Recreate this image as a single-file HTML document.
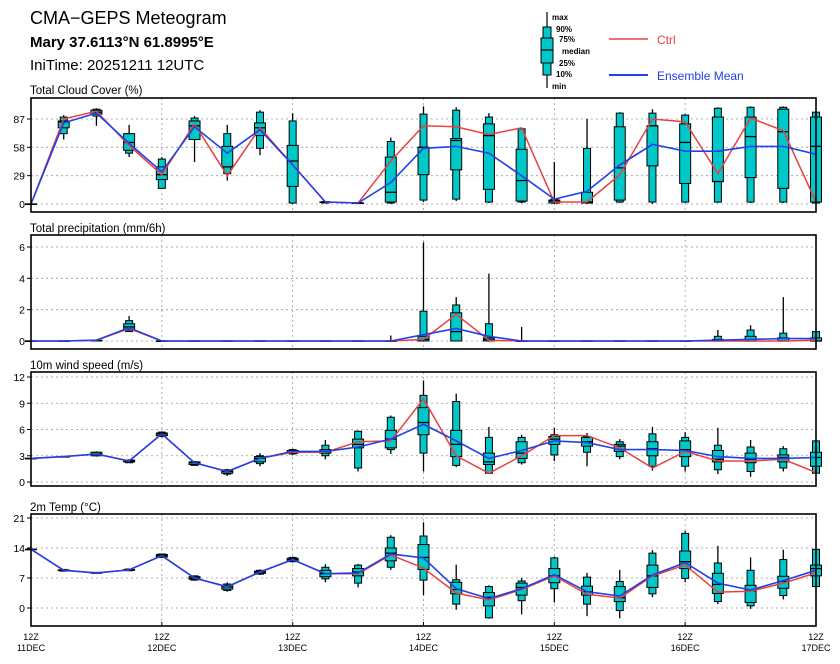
<!DOCTYPE html>
<html><head><meta charset="utf-8">
<style>
html,body{margin:0;padding:0;background:#fff;}
svg{display:block;font-family:"Liberation Sans",sans-serif;}
</style></head>
<body>
<svg id="chart" width="840" height="664" viewBox="0 0 840 664" xmlns="http://www.w3.org/2000/svg">
<g>
<text x="30" y="24" font-size="18" fill="#000">CMA−GEPS Meteogram</text>
<text x="30" y="47" font-size="15" font-weight="bold" fill="#000">Mary 37.6113°N 61.8995°E</text>
<text x="30" y="70" font-size="15" fill="#000">IniTime: 20251211 12UTC</text>
</g>
<g font-size="8" font-weight="bold">
<line x1="547" y1="12" x2="547" y2="88" stroke="#000" stroke-width="1.2"/>
<rect x="543" y="27" width="8" height="48" fill="#00c8c8" stroke="#000"/>
<rect x="541" y="38" width="12" height="25" fill="#00c8c8" stroke="#000"/>
<line x1="541" y1="50" x2="553" y2="50" stroke="#000" stroke-width="1.2"/>
<text x="552" y="20">max</text><text x="556" y="32">90%</text><text x="559" y="42">75%</text>
<text x="562" y="54">median</text><text x="559" y="66">25%</text><text x="556" y="77">10%</text><text x="552" y="89">min</text>
<line x1="609" y1="39" x2="648" y2="39" stroke="#e84040" stroke-width="1.5"/>
<text x="657" y="44" font-size="12" font-weight="normal" fill="#e84040">Ctrl</text>
<line x1="609" y1="75" x2="648" y2="75" stroke="#2040e8" stroke-width="2"/>
<text x="657" y="80" font-size="12" font-weight="normal" fill="#2040e8">Ensemble Mean</text>
</g>
</svg>
<script>
// Shared time axis
const timeLabelsTop = ["12Z","12Z","12Z","12Z","12Z","12Z","12Z"];
const timeLabelsBottom = ["11DEC","12DEC","13DEC","14DEC","15DEC","16DEC","17DEC"];

// Cloud cover (%)
const cloudMax = [0,91,98,81,48,90,81,96,93,3,2,68,100,99,93,78,43,87,94,97,92,99,100,100,95];
const cloudP90 = [0,89,97,72,46,88,72,94,85,2.5,1.5,64,92,96,89,77,5,57,93,93,91,98,99,99,94];
const cloudP75 = [0,85,96,72,38,85,59,83,60,2,1,48,58,67,82,56,4,12,79,80,82,89,89,97,89];
const cloudMed = [0,84,94,63,30,80,38,78,44,2,1,12,58,65,70,24,3,2,37,80,63,23,69,74,59];
const cloudP25 = [0,78,92,55,25,66,38,70,18,1.5,0.5,2,30,35,15,3,1,1,4,39,21,23,27,16,2];
const cloudP10 = [0,72,90,52,16,66,31,57,1,1,0.5,1,4,5,2,2,1,1,2,2,2,2,2,2,1];
const cloudMin = [0,66,80,48,16,43,24,50,0,1,0,0,2,3,1,1,0,0,1,0,1,1,1,1,0];
const cloudCtrl = [0,87,95,60,30,82,29,78,40,2,1,44,80,79,71,78,2,2,30,87,84,31,88,75,2];
const cloudMean = [0,83,93,62,33,79,52,76,40,2,1,22,57,59,52,29,5,13,40,61,54,54,59,59,51];
const cloudTicks = [0,29,58,87];

// Precipitation (mm/6h)
const prMax = [0,0,0.05,1.6,0,0,0,0,0,0,0,0.35,6.3,2.8,4.3,0.9,0,0,0,0,0,0.7,1.0,2.8,0.6];
const prP90 = [0,0,0.05,1.3,0,0,0,0,0,0,0,0,1.9,2.3,1.1,0,0,0,0,0,0,0.3,0.7,0.5,0.6];
const prP75 = [0,0,0.04,1.1,0,0,0,0,0,0,0,0,0.3,1.8,0.2,0,0,0,0,0,0,0.1,0.3,0.2,0.2];
const prMed = [0,0,0.03,0.9,0,0,0,0,0,0,0,0,0.1,0.6,0.1,0,0,0,0,0,0,0,0,0,0];
const prP25 = [0,0,0.02,0.7,0,0,0,0,0,0,0,0,0,0,0,0,0,0,0,0,0,0,0,0,0];
const prP10 = [0,0,0.01,0.6,0,0,0,0,0,0,0,0,0,0,0,0,0,0,0,0,0,0,0,0,0];
const prMin = [0,0,0,0.6,0,0,0,0,0,0,0,0,0,0,0,0,0,0,0,0,0,0,0,0,0];
const prCtrl = [0,0,0.05,0.8,0,0,0,0,0,0,0,0,0.1,1.7,0.05,0,0,0,0,0,0,0,0,0,0.05];
const prMean = [0,0,0.05,0.85,0,0,0,0,0,0,0,0,0.4,0.8,0.3,0,0,0,0,0,0,0.05,0.1,0.15,0.15];
const prTicks = [0,2,4,6];

// 10m wind speed (m/s)
const wsMax = [2.7,2.9,3.5,2.6,5.8,2.4,1.5,3.3,3.8,4.8,5.9,7.6,11.6,10.1,6.3,5.4,6.2,5.6,4.9,6.3,5.7,6.2,4.8,4.1,4.7];
const wsP90 = [2.7,2.9,3.4,2.5,5.7,2.3,1.4,3.0,3.7,4.2,5.8,7.4,9.9,9.2,5.1,5.1,5.4,5.2,4.6,5.5,5.1,4.2,4.0,3.8,4.7];
const wsP75 = [2.7,2.9,3.4,2.5,5.6,2.3,1.3,2.9,3.6,3.7,4.9,5.9,8.5,5.9,3.3,4.6,5.2,5.1,4.3,4.6,4.7,3.6,3.3,3.1,3.4];
const wsMed = [2.7,2.9,3.2,2.4,5.5,2.2,1.2,2.7,3.4,3.5,4.3,4.9,6.8,4.3,2.3,3.3,4.9,4.6,4.1,3.8,3.7,2.6,2.6,2.8,2.8];
const wsP25 = [2.7,2.9,3.0,2.3,5.3,2.0,1.0,2.3,3.3,3.3,3.9,3.9,5.4,2.9,2.0,2.7,4.3,4.1,3.5,3.0,2.9,2.3,2.2,2.3,1.8];
const wsP10 = [2.7,2.9,3.0,2.2,5.2,1.9,0.9,2.1,3.2,3.0,1.6,3.7,3.3,1.9,1.0,2.2,3.1,3.4,2.9,1.8,1.8,1.4,1.2,1.6,1.0];
const wsMin = [2.7,2.9,2.9,2.2,5.1,1.9,0.7,1.8,3.1,2.6,1.2,3.2,1.2,1.7,0.9,2.0,2.4,1.8,2.6,1.3,1.2,0.9,0.6,1.2,1.0];
const wsCtrl = [2.7,2.9,3.2,2.4,5.5,2.2,1.2,2.7,3.4,3.4,4.6,4.7,9.5,3.0,1.0,3.0,5.3,5.3,3.9,1.6,3.5,2.4,2.4,2.6,1.1];
const wsMean = [2.7,2.9,3.2,2.4,5.5,2.2,1.2,2.7,3.5,3.5,4.0,4.9,6.6,4.7,2.7,3.6,4.7,4.5,3.7,3.7,3.6,2.9,2.7,2.7,2.8];
const wsTicks = [0,3,6,9,12];

// 2m temperature (°C)
const tMax = [13.7,9.1,8.4,9.2,12.7,7.6,6.0,9.0,12.0,10.2,10.3,17.0,20.0,10.1,5.3,7.0,12.0,8.2,8.9,13.5,18.0,14.5,11.8,13.6,13.8];
const tP90 = [13.7,9.0,8.3,9.1,12.6,7.5,5.6,8.8,11.8,9.5,10.0,16.5,16.8,6.6,5.0,6.3,11.7,7.2,6.2,12.8,17.4,10.5,8.8,11.3,13.7];
const tP75 = [13.7,8.9,8.3,9.0,12.5,7.3,5.3,8.6,11.6,8.8,9.2,14.0,14.8,6.0,3.6,5.8,9.2,5.1,5.0,10.0,13.3,8.1,5.3,7.4,10.0];
const tMed = [13.7,8.8,8.2,8.9,12.2,7.0,4.9,8.4,11.3,8.0,8.4,12.8,11.8,4.3,2.5,4.8,7.5,3.8,2.4,7.5,10.8,5.5,4.0,6.2,9.2];
const tP25 = [13.7,8.7,8.1,8.8,11.9,6.7,4.4,8.1,11.0,7.3,7.5,11.0,9.0,3.3,0.5,3.0,5.9,3.0,1.5,4.8,9.2,3.4,1.3,4.6,7.5];
const tP10 = [13.7,8.6,8.1,8.7,11.8,6.5,4.1,7.9,10.8,6.8,5.8,9.5,6.5,0.9,-2.3,1.7,4.5,0.9,-0.6,3.3,6.9,1.5,0.5,2.9,5.0];
const tMin = [13.7,8.5,8.0,8.6,11.7,6.4,3.8,7.7,10.6,6.0,4.8,8.9,3.0,-0.4,-2.5,-1.5,1.3,-1.9,-2.4,2.5,6.0,0.9,-0.2,2.0,5.0];
const tCtrl = [13.7,8.8,8.2,8.9,12.2,7.0,4.9,8.4,11.3,8.0,8.0,12.4,9.3,3.5,1.9,4.3,7.5,3.2,2.3,7.5,10.0,3.7,3.9,5.8,8.2];
const tMean = [13.7,8.8,8.2,8.9,12.2,7.0,5.0,8.4,11.3,8.0,8.2,12.6,11.7,4.5,2.2,4.5,7.8,3.8,2.8,7.7,10.6,5.8,4.2,6.4,8.8];
const tTicks = [0,7,14,21];

const NS = "http://www.w3.org/2000/svg";
const svg = document.getElementById("chart");
const X0 = 31, X1 = 816, NT = cloudMax.length;
function xPos(i){ return X0 + (X1 - X0) * i / (NT - 1); }
function mk(tag, attrs, parent){
  const e = document.createElementNS(NS, tag);
  for (const k in attrs) e.setAttribute(k, attrs[k]);
  (parent || svg).appendChild(e);
  return e;
}
function yScaleFor(v0, y0, v1, y1){ return v => y0 + (v - v0) * (y1 - y0) / (v1 - v0); }

function panel(name, title, top, bottom, titleY, yScale, ticks, s, showX){
  const g = mk("g", {});
  
  
  const t = mk("text", {x: 30, y: titleY, "font-size": 11.5, fill: "#000"}, g);
  
  
  t.textContent = title;
  // grid
  for (let d = 1; d < 6; d++){
    const x = xPos(d * 4);
    const gl = mk("line", {x1: x, y1: top, x2: x, y2: bottom, stroke: "#999", "stroke-width": 0.8, "stroke-dasharray": "2,3"}, g);
    
    
  }
  ticks.forEach(v => {
    const y = yScale(v);
    const hl = mk("line", {x1: X0, y1: y, x2: X1, y2: y, stroke: "#999", "stroke-width": 0.8, "stroke-dasharray": "2,3"}, g);
    
    
    mk("line", {x1: X0 - 4, y1: y, x2: X0, y2: y, stroke: "#000"}, g);
    const tl = mk("text", {x: X0 - 6, y: y + 4, "font-size": 10.5, "text-anchor": "end", fill: "#000"}, g);
    
    
    tl.textContent = String(v);
  });
  // boxes
  for (let i = 0; i < NT; i++){
    const x = xPos(i);
    const bg = mk("g", {}, g);
    
    
    mk("line", {x1: x, y1: yScale(s.max[i]), x2: x, y2: yScale(s.min[i]), stroke: "#000", "stroke-width": 1.3}, bg);
    const yp90 = yScale(s.p90[i]), yp10 = yScale(s.p10[i]);
    mk("rect", {x: x - 3.5, y: yp90, width: 7, height: Math.max(yp10 - yp90, 0.5), fill: "#00c8c8", stroke: "#000", "stroke-width": 1}, bg);
    const yp75 = yScale(s.p75[i]), yp25 = yScale(s.p25[i]);
    mk("rect", {x: x - 5.5, y: yp75, width: 11, height: Math.max(yp25 - yp75, 0.5), fill: "#00c8c8", stroke: "#000", "stroke-width": 1}, bg);
    const ym = yScale(s.med[i]);
    mk("line", {x1: x - 5.5, y1: ym, x2: x + 5.5, y2: ym, stroke: "#000", "stroke-width": 1.3}, bg);
  }
  const pc = s.ctrl.map((v, i) => xPos(i).toFixed(1) + "," + yScale(v).toFixed(1)).join(" ");
  const cl = mk("polyline", {points: pc, fill: "none", stroke: "#e84040", "stroke-width": 1.5}, g);
  
  
  const pm = s.mean.map((v, i) => xPos(i).toFixed(1) + "," + yScale(v).toFixed(1)).join(" ");
  const ml = mk("polyline", {points: pm, fill: "none", stroke: "#2040e8", "stroke-width": 1.6}, g);
  
  
  const fr = mk("rect", {x: X0, y: top, width: X1 - X0, height: bottom - top, fill: "none", stroke: "#000", "stroke-width": 1.6}, g);
  
  
  if (showX){
    for (let d = 0; d < timeLabelsTop.length; d++){
      const x = xPos(d * 4);
      mk("line", {x1: x, y1: bottom, x2: x, y2: bottom - 4, stroke: "#000"}, g);
      const a = mk("text", {x: x, y: bottom + 14, "font-size": 9, "text-anchor": "middle", fill: "#000"}, g);
      
      
      a.textContent = timeLabelsTop[d];
      const b = mk("text", {x: x, y: bottom + 25, "font-size": 9, "text-anchor": "middle", fill: "#000"}, g);
      
      
      b.textContent = timeLabelsBottom[d];
    }
  }
}

panel("cloud-cover", "Total Cloud Cover (%)", 98, 212, 94, yScaleFor(0, 204, 87, 119), cloudTicks,
  {max: cloudMax, p90: cloudP90, p75: cloudP75, med: cloudMed, p25: cloudP25, p10: cloudP10, min: cloudMin, ctrl: cloudCtrl, mean: cloudMean}, false);
panel("precipitation", "Total precipitation (mm/6h)", 235, 349, 232, yScaleFor(0, 341, 6, 247), prTicks,
  {max: prMax, p90: prP90, p75: prP75, med: prMed, p25: prP25, p10: prP10, min: prMin, ctrl: prCtrl, mean: prMean}, false);
panel("wind-speed", "10m wind speed (m/s)", 372, 486, 369, yScaleFor(0, 482, 12, 377), wsTicks,
  {max: wsMax, p90: wsP90, p75: wsP75, med: wsMed, p25: wsP25, p10: wsP10, min: wsMin, ctrl: wsCtrl, mean: wsMean}, false);
panel("temperature", "2m Temp (°C)", 514, 626, 511, yScaleFor(0, 608, 21, 518), tTicks,
  {max: tMax, p90: tP90, p75: tP75, med: tMed, p25: tP25, p10: tP10, min: tMin, ctrl: tCtrl, mean: tMean}, true);
</script>
</body></html>
